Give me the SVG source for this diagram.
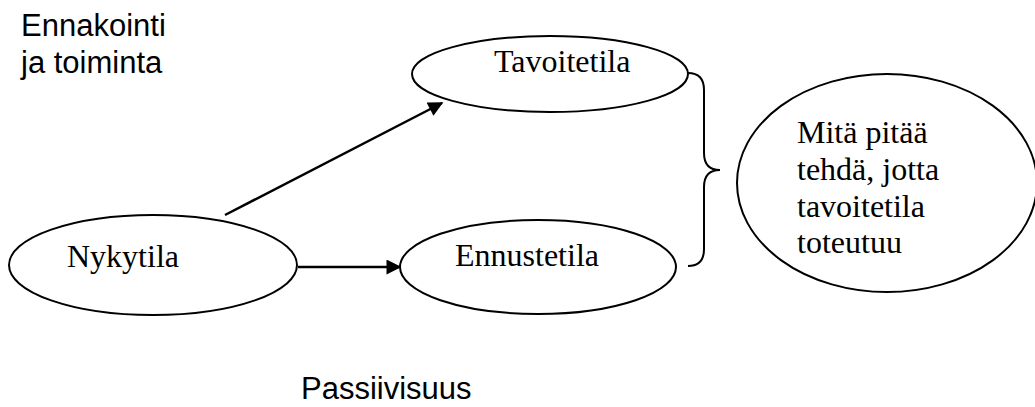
<svg xmlns="http://www.w3.org/2000/svg" width="1035" height="407" viewBox="0 0 1035 407">
  <defs>
    <style>
      .node { fill: #ffffff; stroke: #000000; stroke-width: 2; }
      .serif { font-family: "Liberation Serif", "Times New Roman", serif; font-size: 32px; fill: #000000; }
      .sans { font-family: "Liberation Sans", Arial, sans-serif; font-size: 31px; fill: #000000; }
      .edge { fill: none; stroke: #000000; stroke-width: 2.5; }
      .brace { fill: none; stroke: #000000; stroke-width: 2; }
    </style>
    <marker id="arrow" viewBox="0 0 10 10" refX="9" refY="5" markerWidth="6.5" markerHeight="6" orient="auto" markerUnits="strokeWidth">
      <path d="M0,0 L10,5 L0,10 z" fill="#000000"/>
    </marker>
  </defs>
  <rect width="1035" height="407" fill="#ffffff"/>

  <!-- free labels -->
  <text class="sans" x="21" y="36">Ennakointi</text>
  <text class="sans" x="21" y="73">ja toiminta</text>
  <text class="sans" x="301" y="399">Passiivisuus</text>

  <!-- connectors -->
  <g id="connectors">
    <line class="edge" x1="225" y1="215" x2="442" y2="103" marker-end="url(#arrow)"/>
    <line class="edge" x1="298" y1="267" x2="400" y2="267" marker-end="url(#arrow)"/>
    <path class="brace" d="M688,73 Q704,73 704,90 L704,153 Q704,170 720,170 Q704,170 704,187 L704,249 Q704,266 688,266"/>
  </g>

  <g id="tavoitetila">
    <ellipse class="node" cx="550" cy="74" rx="138" ry="38"/>
    <text class="serif" x="494" y="72">Tavoitetila</text>
  </g>

  <g id="nykytila">
    <ellipse class="node" cx="153" cy="265" rx="144" ry="50"/>
    <text class="serif" x="67" y="267">Nykytila</text>
  </g>

  <g id="ennustetila">
    <ellipse class="node" cx="538" cy="267" rx="138" ry="47"/>
    <text class="serif" x="455" y="266">Ennustetila</text>
  </g>

  <g id="toimet">
    <ellipse class="node" cx="887" cy="183" rx="150" ry="109"/>
    <text class="serif" x="797" y="143">Mitä pitää</text>
    <text class="serif" x="797" y="180">tehdä, jotta</text>
    <text class="serif" x="797" y="217">tavoitetila</text>
    <text class="serif" x="797" y="253">toteutuu</text>
  </g>
</svg>
